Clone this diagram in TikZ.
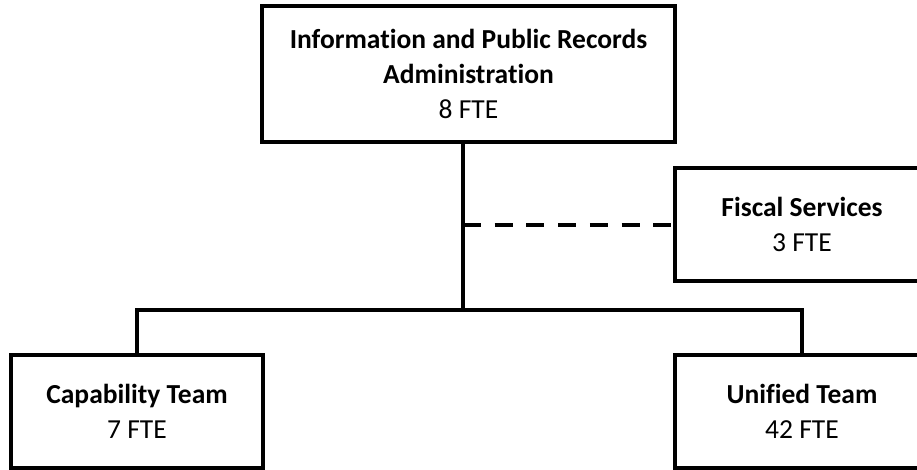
\documentclass[tikz,border=0pt]{standalone}
\usepackage{fontspec}
\setmainfont[Ligatures={NoCommon}]{Carlito}
\begin{document}
\begin{tikzpicture}[x=1pt,y=-1pt,
  unit/.style={draw=black, line width=4pt, fill=white, inner sep=0pt,
    align=center, font=\fontsize{27.5}{35}\selectfont,
    minimum width=254pt, minimum height=113pt},
  link/.style={draw=black, line width=4pt},
  staff link/.style={draw=black, line width=4pt, dash pattern=on 18pt off 13.7pt}]
\useasboundingbox (0,0) rectangle (917,469);
\clip (0,0) rectangle (917,469);

% junction of the reporting lines
\coordinate (hub) at (463,310);

% units
\node[unit, minimum width=413pt, minimum height=136pt] (ipra) at (468.5,74)
  {\textbf{Information and Public Records}\\\textbf{Administration}\\8 FTE};
\node[unit] (fiscal) at (802,224.5) {\textbf{Fiscal Services}\\3 FTE};
\node[unit, minimum width=252pt] (cap) at (137,411.5) {\textbf{Capability Team}\\7 FTE};
\node[unit] (uni) at (802,411.5) {\textbf{Unified Team}\\42 FTE};

% reporting lines
\draw[link] (hub |- ipra.south) -- (hub);
\draw[link] (cap.north) -- (cap.north |- hub) -- (uni.north |- hub) -- (uni.north);
\draw[staff link] (hub |- fiscal.west) -- (fiscal.west);
\end{tikzpicture}
\end{document}
